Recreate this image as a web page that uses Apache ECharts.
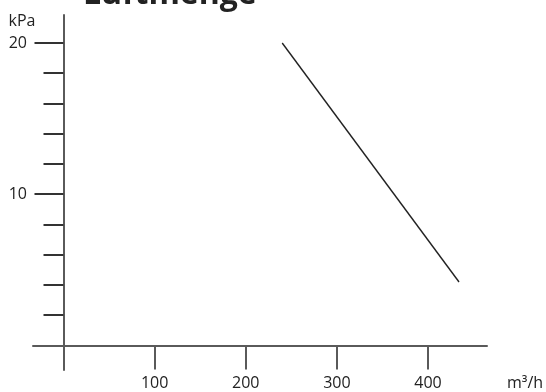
<!DOCTYPE html>
<html>
<head>
<meta charset="utf-8">
<script src="https://cdn.jsdelivr.net/npm/echarts@6/dist/echarts.min.js"></script>
<style>
  html, body { margin: 0; padding: 0; background: #fff; }
  #chart { width: 546px; height: 392px; }
</style>
</head>
<body>
<div id="chart"></div>
<script>
// Fan curve: air volume (m³/h) against pressure (kPa)
const titleText = 'Luftmenge';
const flowValues = [240, 434];      // m³/h
const pressureValues = [20, 4.2];   // kPa

const xTickValues = [0, 100, 200, 300, 400];
const xLabelValues = [100, 200, 300, 400];
const yMajorTicks = [10, 20];
const yMinorTicks = [2, 4, 6, 8, 12, 14, 16, 18];

const axisColor = '#5a5a5a';
const inkColor = '#222';
const fontFamily = '"Open Sans", "Noto Sans", sans-serif';

// Axis extents reach a little past the origin so both lines cross there
const xRange = { min: -33.47, max: 464.7 };
const yRange = { min: -1.62, max: 21.85 };

// The plot area; the y axis sits on x = 0, which is yAxisShift px right of its left edge
const gridBox = { left: 33, right: 59, top: 15, bottom: 22 };
const yAxisShift = 30.5;

const chart = echarts.init(document.getElementById('chart'), null, { renderer: 'canvas' });

const curve = flowValues.map((x, i) => [x, pressureValues[i]]);

const labelStyle = { fontFamily, fontSize: 16, lineHeight: 16, color: inkColor };

const baseY = {
  type: 'value',
  position: 'left',
  min: yRange.min,
  max: yRange.max,
  splitLine: { show: false }
};

chart.setOption({
  animation: false,
  backgroundColor: '#fff',
  title: {
    text: titleText,
    left: 83,
    top: -21,
    padding: 0,
    textStyle: { fontFamily, fontSize: 32, fontWeight: 'bold', color: inkColor }
  },
  grid: Object.assign({}, gridBox, {
    containLabel: false,
    outerBounds: { left: 0, right: 0, top: 0, bottom: 0 },
    outerBoundsContain: 'axisLabel'
  }),
  xAxis: {
    type: 'value',
    min: xRange.min,
    max: xRange.max,
    name: 'm³/h',
    nameLocation: 'end',
    nameGap: 20,
    nameTextStyle: Object.assign({}, labelStyle, {
      align: 'left', verticalAlign: 'top', padding: [30, 0, 0, 0]
    }),
    splitLine: { show: false },
    axisLine: { onZero: true, lineStyle: { color: axisColor, width: 2 } },
    axisTick: {
      show: true, inside: false, length: 24,
      customValues: xTickValues,
      lineStyle: { color: axisColor, width: 2 }
    },
    axisLabel: Object.assign({ show: true, margin: 5, customValues: xLabelValues }, labelStyle)
  },
  yAxis: [
    Object.assign({}, baseY, {
      offset: 0,
      name: 'kPa',
      nameLocation: 'end',
      nameGap: -6,
      nameTextStyle: Object.assign({}, labelStyle, {
        align: 'right', verticalAlign: 'middle', padding: [0, 28, 0, 0]
      }),
      axisLine: { onZero: true, lineStyle: { color: axisColor, width: 2 } },
      axisTick: {
        show: true, inside: false, length: 29,
        customValues: yMajorTicks,
        lineStyle: { color: '#333', width: 2 }
      },
      axisLabel: Object.assign({ show: true, margin: 6, customValues: yMajorTicks }, labelStyle)
    }),
    // shorter intermediate ticks every 2 kPa on the same vertical line
    Object.assign({}, baseY, {
      offset: -yAxisShift,
      axisLine: { show: false, onZero: false },
      axisTick: {
        show: true, inside: false, length: 20,
        customValues: yMinorTicks,
        lineStyle: { color: '#333', width: 2 }
      },
      axisLabel: { show: false }
    })
  ],
  series: [{
    type: 'line',
    data: curve,
    yAxisIndex: 0,
    symbol: 'none',
    lineStyle: { color: inkColor, width: 1.4 }
  }]
});
</script>
</body>
</html>
